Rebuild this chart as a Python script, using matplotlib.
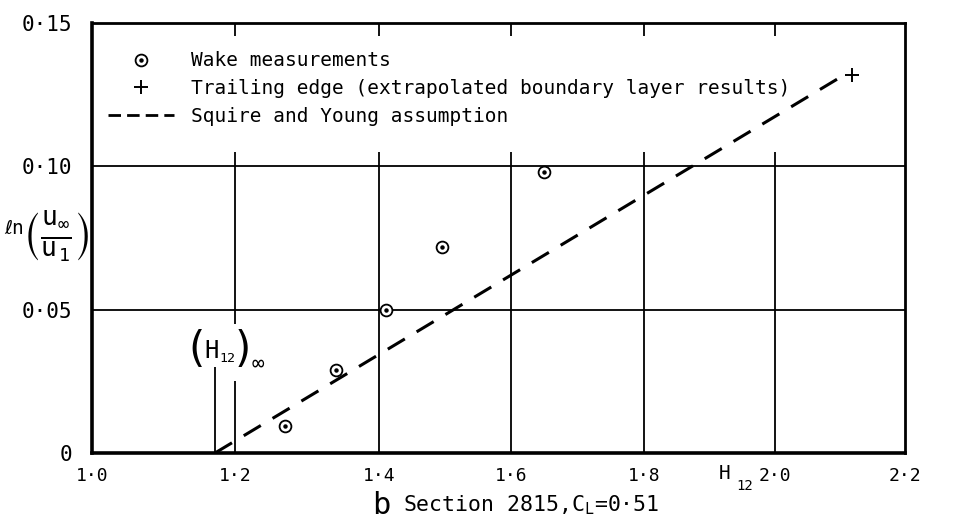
import matplotlib
matplotlib.use("Agg")
import numpy as np
import matplotlib.pyplot as plt
from matplotlib.lines import Line2D

# ---- data ----
wake_h12 = [1.27, 1.34, 1.41, 1.495, 1.65]
wake_ln = [0.0095, 0.029, 0.050, 0.072, 0.098]
te_h12 = [2.118]
te_ln = [0.132]
squire_h12 = [1.172, 2.10]
squire_ln = [0.0, 0.131]
h12_inf = 1.172
x_ticks = [1.0, 1.2, 1.4, 1.6, 1.8, 2.0, 2.2]
x_ticklabels = ["1·0", "1·2", "1·4", "1·6", "1·8", "2·0", "2·2"]
y_ticks = [0.0, 0.05, 0.10, 0.15]
y_ticklabels = ["0", "0·05", "0·10", "0·15"]
legend_labels = ["Wake measurements",
                 "Trailing edge (extrapolated boundary layer results)",
                 "Squire and Young assumption"]

# hand-drawn (slightly uneven) x grid spacing of the original sheet
x_grid_pos = np.array([0.0, 143.0, 287.0, 419.0, 552.0, 683.0, 813.0])
x_grid_val = np.array(x_ticks)


def fwd(x):
    return np.interp(x, x_grid_val, x_grid_pos)


def inv(p):
    return np.interp(p, x_grid_pos, x_grid_val)


plt.rcParams['font.family'] = ['DejaVu Sans Mono', 'DejaVu Sans']
plt.rcParams['mathtext.fontset'] = 'custom'
plt.rcParams['mathtext.rm'] = 'DejaVu Sans Mono'
plt.rcParams['mathtext.it'] = 'DejaVu Sans Mono'
plt.rcParams['mathtext.bf'] = 'DejaVu Sans Mono:bold'
plt.rcParams['mathtext.fallback'] = 'stixsans'

fig = plt.figure(figsize=(9.65, 5.2), dpi=100)
ax = fig.add_axes([0.0953, 0.1288, 0.8425, 0.827])
ax.set_xscale('function', functions=(fwd, inv))
ax.set_xlim(1.0, 2.2)
ax.set_ylim(0.0, 0.15)

for s in ax.spines.values():
    s.set_linewidth(2.0)
    s.set_color('black')
ax.spines['left'].set_linewidth(2.6)
ax.spines['bottom'].set_linewidth(2.6)

ax.set_xticks(x_ticks)
ax.set_xticklabels(x_ticklabels, fontsize=13)
ax.set_yticks(y_ticks)
ax.set_yticklabels(y_ticklabels, fontsize=15)
ax.minorticks_off()
ax.tick_params(length=0)
ax.tick_params(axis='x', pad=10)
ax.tick_params(axis='y', pad=14)

# grid (broken where legend / annotation sit)
gkw = dict(color='black', lw=1.3, zorder=1)
for xv in x_ticks[1:-1]:
    ax.vlines(xv, 0.1455, 0.15, **gkw)
    if abs(xv - 1.2) < 1e-9:
        ax.vlines(xv, 0.0, 0.025, **gkw)
        ax.vlines(xv, 0.045, 0.105, **gkw)
    else:
        ax.vlines(xv, 0.0, 0.105, **gkw)
for yv in y_ticks[1:-1]:
    ax.axhline(yv, **gkw)

# (H12)_inf marker line and label (pieces laid side by side)
ax.vlines(h12_inf, 0.0, 0.030, **gkw)
anchor = (1.197, 0.037)
akw = dict(xy=anchor, xycoords='data', textcoords='offset points',
           va='center', zorder=3, annotation_clip=False)
ax.annotate("(", xytext=(-20.2, -2), fontsize=30, ha='right',
            family='DejaVu Sans', **akw)
ax.annotate("H", xytext=(-20.2, -3), fontsize=17, ha='left', **akw)
ax.annotate("12", xytext=(-10.0, -8), fontsize=9.5, ha='left', **akw)
ax.annotate(")", xytext=(1.4, -2), fontsize=30, ha='left',
            family='DejaVu Sans', **akw)
ax.annotate("∞", xytext=(13.4, -12), fontsize=15, ha='left', **akw)

# data
ax.plot(squire_h12, squire_ln, color='black', lw=2.2, dashes=(6.5, 4.5), zorder=2)
ax.plot(wake_h12, wake_ln, linestyle='none', marker='o', markersize=8.5,
        markerfacecolor='white', markeredgewidth=1.3, color='black', zorder=4)
ax.plot(wake_h12, wake_ln, linestyle='none', marker='o', markersize=2.2,
        color='black', zorder=5)
ax.plot(te_h12, te_ln, linestyle='none', marker='+', markersize=9.5,
        markeredgewidth=1.4, color='black', zorder=4)

h_circ = Line2D([], [], linestyle='none', marker='o', markersize=8.5,
                markerfacecolor='white', markeredgewidth=1.3, color='black')
h_dot = Line2D([], [], linestyle='none', marker='o', markersize=2.2, color='black')
handles = [
    (h_circ, h_dot),
    Line2D([], [], linestyle='none', marker='+', markersize=9.5, markeredgewidth=1.4, color='black'),
    Line2D([], [], color='black', lw=2.0, dashes=(4.5, 2.2)),
]
ax.legend(handles, legend_labels, loc='upper left', bbox_to_anchor=(0.0, 0.97),
          frameon=False, fontsize=14, handlelength=3.4, handletextpad=0.9,
          labelspacing=0.45, borderaxespad=0.4)

# x-axis quantity label H12 on the tick-label row
hkw = dict(xy=(1.914, 0.0), xycoords='data', textcoords='offset points',
           va='center', ha='left', annotation_clip=False)
ax.annotate("H", xytext=(0, -15), fontsize=14, **hkw)
ax.annotate("12", xytext=(12.5, -24), fontsize=10, **hkw)

# y-axis label  ln(u_inf / u_1)
fig.text(14 / 965, 1 - 229 / 520, "ℓn", fontsize=14, ha='center', va='center')
fig.text(56 / 965, 1 - 237 / 520,
         r"$\left(\frac{\mathrm{u}_{\infty}}{\mathrm{u}_{\,1}}\right)$",
         fontsize=27, ha='center', va='center')

# caption
fig.text(0.386, 0.012, "b", fontsize=22, ha='left', va='baseline')
fig.text(0.418, 0.016, r"Section 2815,$\mathrm{C}_\mathrm{L}$=0·51", fontsize=15.5,
         ha='left', va='baseline')

fig.savefig("out.png", dpi=100)
